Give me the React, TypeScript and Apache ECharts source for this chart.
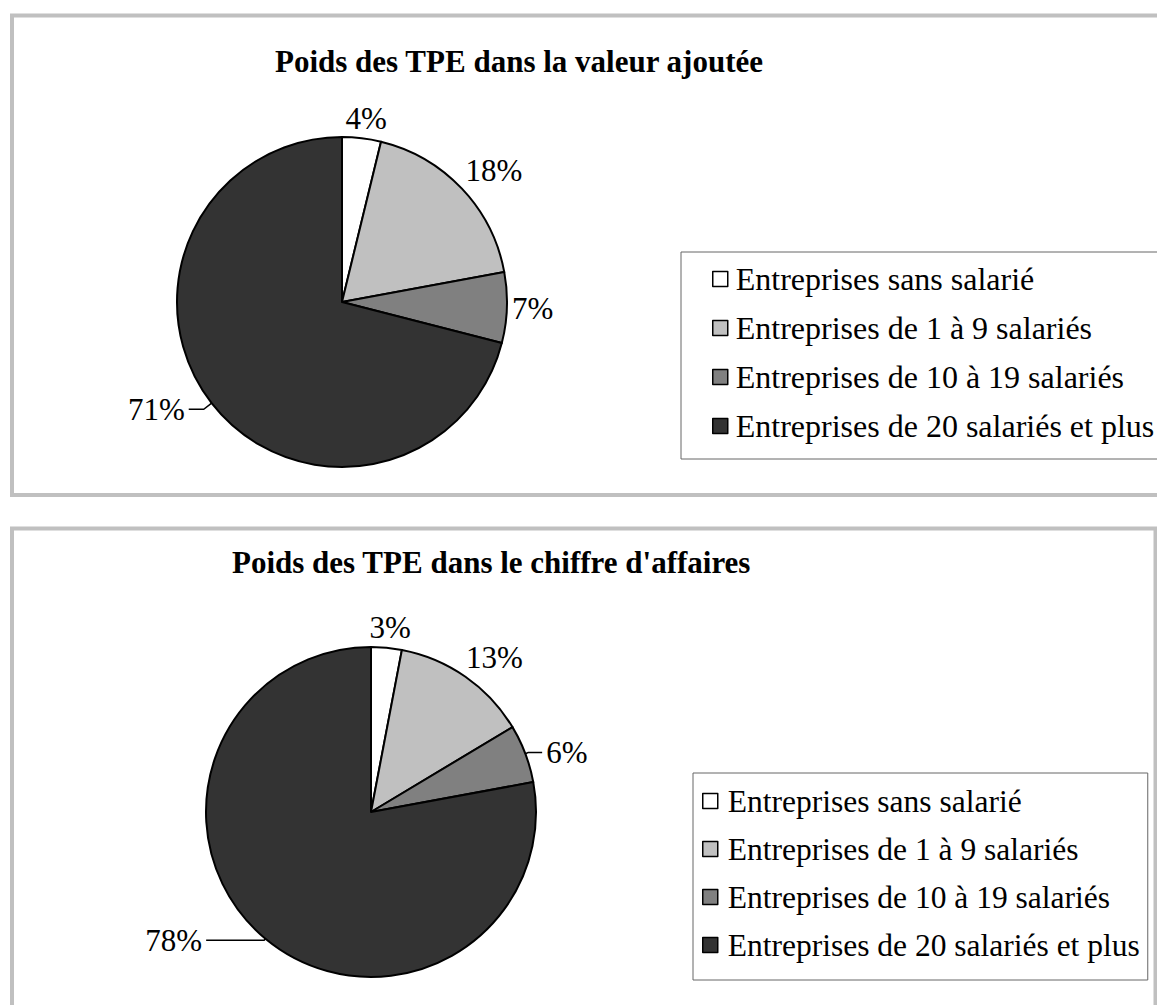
import React, { useEffect, useRef } from "react";
import * as echarts from "echarts";

const categories = [
  "Entreprises sans salarié",
  "Entreprises de 1 à 9 salariés",
  "Entreprises de 10 à 19 salariés",
  "Entreprises de 20 salariés et plus",
];
const valeurAjoutee = [3.8, 18.3, 6.9, 71.0];
const chiffreAffaires = [3.0, 13.4, 5.7, 77.9];
const titles = [
  "Poids des TPE dans la valeur ajoutée",
  "Poids des TPE dans le chiffre d'affaires",
];
const sliceColors = ["#ffffff", "#c0c0c0", "#808080", "#333333"];

const FONT = "'Liberation Serif', 'Times New Roman', Times, serif";

type Leader = { length: number; length2: number };

const pies = [
  {
    values: valeurAjoutee,
    center: [342, 302],
    r: 165,
    leaders: { 3: { length: 10, length2: 15 } } as Record<number, Leader>,
  },
  {
    values: chiffreAffaires,
    center: [371, 812],
    r: 165,
    leaders: {
      2: { length: 3, length2: 14 },
      3: { length: 2, length2: 58 },
    } as Record<number, Leader>,
  },
];

function makeSeries(idx: number) {
  const cfg = pies[idx];
  const total = cfg.values.reduce((a, b) => a + b, 0);
  return {
    type: "pie",
    center: cfg.center,
    radius: cfg.r,
    startAngle: 90,
    clockwise: true,
    avoidLabelOverlap: false,
    percentPrecision: 0,
    silent: true,
    emphasis: { disabled: true },
    itemStyle: { borderColor: "#000", borderWidth: 2 },
    label: {
      show: true,
      position: "outside",
      formatter: "{d}%",
      fontFamily: FONT,
      fontSize: 31,
      color: "#000",
      distanceToLabelLine: 4,
    },
    labelLine: { show: false, lineStyle: { color: "#000", width: 1.5 } },
    data: cfg.values.map((v, i) => {
      const ld = cfg.leaders[i];
      return {
        name: categories[i],
        value: v,
        itemStyle: { color: sliceColors[i] },
        labelLine: ld
          ? {
              show: true,
              length: ld.length,
              length2: ld.length2,
              smooth: false,
              lineStyle: { color: "#000", width: 1.5 },
            }
          : { show: false },
      };
    }),
    labelLayout: (params: any) => {
      const i = params.dataIndex;
      if (cfg.leaders[i]) return {};
      let cum = 0;
      for (let k = 0; k < i; k++) cum += cfg.values[k];
      const theta = ((cum + cfg.values[i] / 2) / total) * Math.PI * 2;
      const s = Math.sin(theta);
      const c = Math.cos(theta);
      const px = cfg.center[0] + (cfg.r + 5) * s;
      const py = cfg.center[1] - (cfg.r + 5) * c;
      const hw = params.labelRect.width / 2;
      const hh = 15;
      const f = (t: number) => Math.max(-1, Math.min(1, 1.6 * t));
      return {
        x: px + hw * f(s),
        y: py - hh * f(c),
        align: "center",
        verticalAlign: "middle",
      };
    },
  };
}

export default function App() {
  const ref = useRef<HTMLDivElement>(null);
  useEffect(() => {
    document.body.style.margin = "0";
    if (!ref.current) return;
    const chart = echarts.init(ref.current, undefined, { renderer: "svg" });
    chart.setOption({
      animation: false,
      backgroundColor: "#ffffff",
      title: [
        {
          text: titles[0],
          left: 275,
          top: 46,
          padding: 0,
          textStyle: { fontFamily: FONT, fontSize: 31, fontWeight: "bold", color: "#000" },
        },
        {
          text: titles[1],
          left: 232,
          top: 547,
          padding: 0,
          textStyle: { fontFamily: FONT, fontSize: 31, fontWeight: "bold", color: "#000" },
        },
      ],
      graphic: [
        {
          type: "rect",
          z: 0,
          shape: { x: 12, y: 15.5, width: 1170, height: 479.5 },
          style: { fill: "transparent", stroke: "#c0c0c0", lineWidth: 4 },
        },
        {
          type: "rect",
          z: 0,
          shape: { x: 12, y: 528.5, width: 1143.5, height: 520 },
          style: { fill: "transparent", stroke: "#c0c0c0", lineWidth: 4 },
        },
      ],
      legend: [
        {
          orient: "vertical",
          left: 681,
          top: 252,
          data: categories,
          icon: "rect",
          itemWidth: 15,
          itemHeight: 15,
          itemGap: 15,
          padding: [10, 14, 16, 31],
          borderColor: "#666",
          borderWidth: 1,
          selectedMode: false,
          itemStyle: { borderColor: "#000", borderWidth: 1.5 },
          textStyle: {
            fontFamily: FONT,
            fontSize: 32,
            lineHeight: 34,
            color: "#000",
            padding: [0, 0, 0, 3],
          },
        },
        {
          orient: "vertical",
          left: 693,
          top: 773,
          data: categories,
          icon: "rect",
          itemWidth: 15,
          itemHeight: 15,
          itemGap: 14,
          padding: [11, 8, 18, 9],
          borderColor: "#666",
          borderWidth: 1,
          selectedMode: false,
          itemStyle: { borderColor: "#000", borderWidth: 1.5 },
          textStyle: {
            fontFamily: FONT,
            fontSize: 31.5,
            lineHeight: 34,
            color: "#000",
            padding: [0, 0, 0, 5],
          },
        },
      ],
      series: [makeSeries(0), makeSeries(1)],
    });
    return () => chart.dispose();
  }, []);
  return <div ref={ref} style={{ width: 1157, height: 1005 }} />;
}
